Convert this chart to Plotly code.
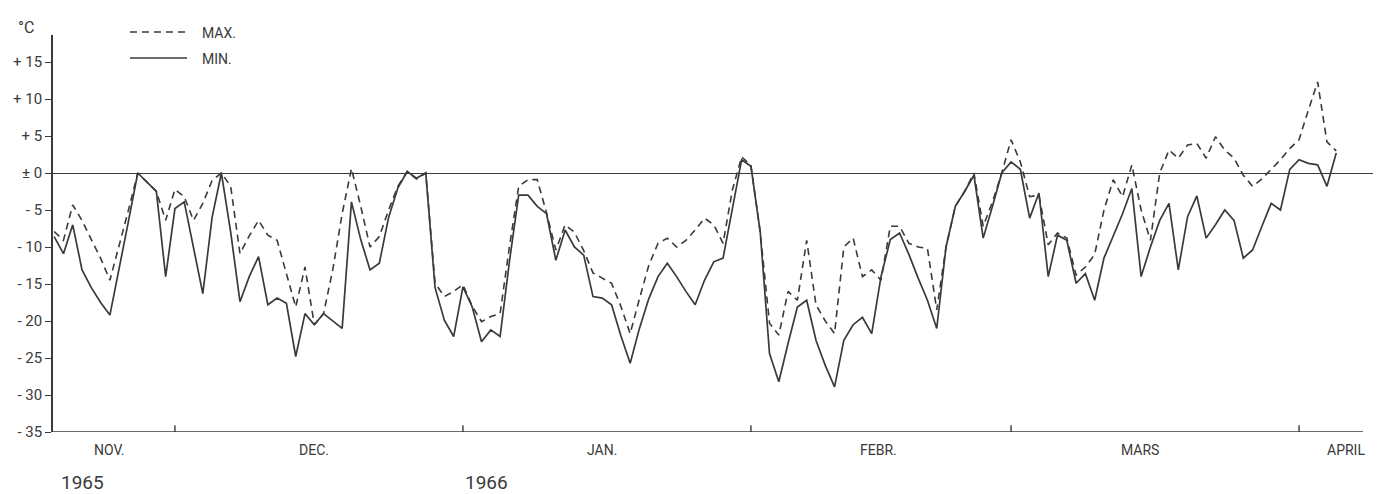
import pandas as pd
import plotly.graph_objects as go

# Daily temperatures (°C), 18 Nov 1965 - 5 Apr 1966
t_max_nov = [-7.9, -9.1, -4.3, -6.4, -9.0, -11.5, -14.5, -9.8, -5.0, 0.0, -1.3, -2.5, -6.4]
t_max_dec = [-2.2, -3.2, -6.4, -4.1, -1.0, 0.0, -1.8, -10.9, -8.5, -6.4, -8.4, -9.1, -13.5,
             -18.1, -12.7, -20.5, -19.0, -13.0, -5.5, 0.6, -4.5, -10.0, -8.6, -5.0, -1.8,
             0.2, -0.8, 0.0, -14.9, -16.7, -16.0]
t_max_jan = [-15.1, -18.0, -20.1, -19.4, -19.0, -10.0, -1.8, -0.9, -0.9, -5.4, -10.4, -7.0,
             -8.0, -10.5, -13.5, -14.2, -14.9, -18.0, -21.7, -17.0, -12.5, -9.5, -8.8, -10.0,
             -9.1, -7.7, -6.1, -7.0, -9.5, -2.3, 2.2]
t_max_feb = [1.0, -8.0, -20.3, -21.9, -16.0, -17.2, -9.1, -17.8, -20.0, -21.7, -10.0, -8.8,
             -14.0, -13.1, -14.5, -7.2, -7.2, -9.5, -10.0, -10.2, -18.5, -10.0, -4.5, -2.5,
             0.0, -7.2, -3.9, 0.0]
t_max_mar = [4.5, 1.5, -3.2, -3.0, -9.7, -8.1, -8.8, -13.8, -12.7, -11.0, -5.0, -0.9, -3.2,
             1.1, -5.0, -9.1, 0.0, 3.1, 2.0, 3.8, 4.0, 2.0, 4.9, 3.1, 2.0, -0.3, -1.8, -0.8,
             0.5, 1.8, 3.3]
t_max_apr = [4.5, 8.5, 12.3, 4.2, 3.0]

t_min_nov = [-8.6, -10.9, -7.0, -13.1, -15.5, -17.5, -19.2, -13.0, -6.5, 0.0, -1.2, -2.5, -14.0]
t_min_dec = [-4.8, -3.9, -10.0, -16.3, -6.0, 0.0, -8.0, -17.4, -14.0, -11.3, -17.8, -16.9,
             -17.6, -24.8, -19.0, -20.5, -19.0, -20.0, -21.0, -3.9, -9.0, -13.1, -12.2, -6.0,
             -2.0, 0.2, -0.7, 0.0, -15.5, -19.9, -22.1]
t_min_jan = [-15.4, -18.1, -22.8, -21.2, -22.1, -12.0, -3.0, -3.0, -4.5, -5.5, -11.8, -7.7,
             -10.0, -11.1, -16.7, -16.9, -17.8, -22.0, -25.7, -21.0, -17.0, -14.0, -12.2,
             -14.0, -16.0, -17.8, -14.5, -12.0, -11.5, -5.0, 1.8]
t_min_feb = [0.9, -8.0, -24.4, -28.2, -23.0, -18.1, -17.2, -22.6, -26.0, -28.9, -22.6, -20.5,
             -19.5, -21.7, -14.0, -9.0, -8.1, -11.0, -14.2, -17.2, -21.0, -10.0, -4.5, -2.5,
             -0.3, -8.8, -4.5, 0.0]
t_min_mar = [1.5, 0.5, -6.1, -2.7, -14.0, -8.4, -9.1, -14.9, -13.6, -17.2, -11.5, -8.5, -5.5,
             -2.1, -14.0, -10.0, -6.4, -4.1, -13.1, -5.9, -3.1, -8.8, -7.0, -5.0, -6.4, -11.5,
             -10.4, -7.2, -4.1, -5.0, 0.5]
t_min_apr = [1.8, 1.3, 1.1, -1.8, 2.7]

t_max = t_max_nov + t_max_dec + t_max_jan + t_max_feb + t_max_mar + t_max_apr
t_min = t_min_nov + t_min_dec + t_min_jan + t_min_feb + t_min_mar + t_min_apr
dates = pd.date_range("1965-11-18", periods=len(t_max), freq="D")

month_labels = ["NOV.", "DEC.", "JAN.", "FEBR.", "MARS", "APRIL"]
month_label_dates = ["1965-11-24", "1965-12-16", "1966-01-16", "1966-02-14 18:00",
                     "1966-03-14 22:00", "1966-04-06"]
month_starts = ["1965-12-01", "1966-01-01", "1966-02-01", "1966-03-01", "1966-04-01"]
year_labels = ["1965", "1966"]
year_label_dates = ["1965-11-21", "1966-01-03 14:00"]

y_ticks = [15, 10, 5, 0, -5, -10, -15, -20, -25, -30, -35]
y_tick_text = ["+ 15", "+ 10", "+ 5", "± 0", "- 5", "- 10", "- 15", "- 20", "- 25", "- 30", "- 35"]

INK = "#3a3a3a"
FONT = "Roboto, Liberation Sans, sans-serif"

fig = go.Figure()
fig.add_trace(go.Scatter(x=dates, y=t_max, mode="lines", name="MAX.",
                         line=dict(color=INK, width=1.6, dash="7px,5px")))
fig.add_trace(go.Scatter(x=dates, y=t_min, mode="lines", name="MIN.",
                         line=dict(color=INK, width=1.7)))

x_start, x_end = "1965-11-17 21:00", "1966-04-08 23:00"

# bottom axis line with month separators crossing it
fig.add_shape(type="line", xref="x", yref="y", x0=x_start, x1="1966-04-07 21:00",
              y0=-35, y1=-35, line=dict(color=INK, width=1.6))
for m in month_starts:
    fig.add_shape(type="line", xref="x", yref="y", x0=m, x1=m, y0=-35.9, y1=-34.1,
                  line=dict(color=INK, width=1.4))

for lbl, d in zip(month_labels, month_label_dates):
    fig.add_annotation(x=d, y=-0.045, xref="x", yref="paper", text=lbl, showarrow=False,
                       font=dict(family=FONT, size=14, color=INK), yanchor="middle")
for lbl, d in zip(year_labels, year_label_dates):
    fig.add_annotation(x=d, y=-0.127, xref="x", yref="paper", text=lbl, showarrow=False,
                       font=dict(family=FONT, size=19, color=INK), yanchor="middle")

fig.add_annotation(x=-0.013, y=1.02, xref="paper", yref="paper", text="°C", showarrow=False,
                   font=dict(family=FONT, size=16, color=INK), xanchor="right", yanchor="middle")

# key
key_x0, key_x1 = 130, 187
W, H = 1377, 494
L, R, T, B = 53, 4, 35, 62
pw, ph = W - L - R, H - T - B


def px(xp):
    return (xp - L) / pw


def py(yp):
    return (H - B - yp) / ph


fig.add_shape(type="line", xref="paper", yref="paper", x0=px(key_x0), x1=px(key_x1),
              y0=py(32), y1=py(32), line=dict(color=INK, width=1.5, dash="7px,5px"))
fig.add_shape(type="line", xref="paper", yref="paper", x0=px(key_x0), x1=px(key_x1),
              y0=py(58), y1=py(58), line=dict(color=INK, width=1.6))
fig.add_annotation(x=px(200), y=py(33), xref="paper", yref="paper", text="MAX.",
                   showarrow=False, xanchor="left", yanchor="middle",
                   font=dict(family=FONT, size=14, color=INK))
fig.add_annotation(x=px(200), y=py(59), xref="paper", yref="paper", text="MIN.",
                   showarrow=False, xanchor="left", yanchor="middle",
                   font=dict(family=FONT, size=14, color=INK))

fig.update_layout(
    width=W, height=H,
    margin=dict(l=L, r=R, t=T, b=B),
    paper_bgcolor="white", plot_bgcolor="white",
    showlegend=False,
    xaxis=dict(range=[x_start, x_end], showgrid=False, zeroline=False, showline=False,
               showticklabels=False, ticks=""),
    yaxis=dict(range=[-35, 18.65], showgrid=False, zeroline=True, zerolinecolor=INK,
               zerolinewidth=1.4, showline=True, linecolor=INK, linewidth=1.7,
               tickmode="array", tickvals=y_ticks, ticktext=y_tick_text,
               ticks="outside", ticklen=6, tickcolor=INK, tickwidth=1.4,
               tickfont=dict(family=FONT, size=15, color=INK)),
)

fig.write_html("out.html")
